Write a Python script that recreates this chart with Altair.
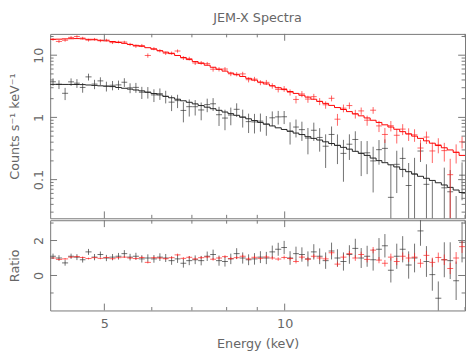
import altair as alt
import pandas as pd
import numpy as np

TITLE = "JEM-X Spectra"
X_TITLE = "Energy (keV)"
Y_TITLE = "Counts s\u207b\u00b9 keV\u207b\u00b9"
R_TITLE = "Ratio"

x_domain = [4.06, 20.0]
y_domain = [0.0239, 22.0]
r_domain = [-2.0, 3.16]

# energy bin edges (keV)
edges = [4.06, 4.15, 4.25, 4.35, 4.45, 4.55, 4.65, 4.76, 4.87, 4.98,
         5.10, 5.22, 5.34, 5.46, 5.58, 5.71, 5.84, 5.98, 6.12, 6.26,
         6.40, 6.55, 6.70, 6.85, 7.01, 7.17, 7.34, 7.51, 7.68, 7.86,
         8.04, 8.22, 8.41, 8.61, 8.80, 9.01, 9.21, 9.43, 9.64, 9.87,
         10.09, 10.33, 10.56, 10.81, 11.06, 11.31, 11.57, 11.84, 12.11, 12.39,
         12.68, 12.97, 13.27, 13.57, 13.89, 14.21, 14.53, 14.87, 15.21, 15.56,
         15.92, 16.29, 16.66, 17.05, 17.44, 17.84, 18.26, 18.68, 19.11, 19.55,
         20.00]

red_model = [18.0, 18.1, 18.3, 18.4, 18.5, 18.3, 18.0, 17.7, 17.4, 17.0,
             16.6, 16.0, 15.5, 14.9, 14.4, 13.9, 13.2, 12.5, 11.8, 11.2,
             10.6, 9.9, 9.2, 8.5, 7.9, 7.4, 6.9, 6.4, 5.95, 5.55,
             5.17, 4.85, 4.55, 4.25, 3.97, 3.70, 3.45, 3.22, 3.00, 2.80,
             2.61, 2.43, 2.27, 2.12, 1.96, 1.81, 1.68, 1.56, 1.44, 1.34,
             1.24, 1.14, 1.06, 0.98, 0.90, 0.83, 0.76, 0.70, 0.645, 0.59,
             0.543, 0.50, 0.46, 0.42, 0.385, 0.353, 0.325, 0.30, 0.275, 0.245]

black_model = [3.40, 3.40, 3.39, 3.39, 3.38, 3.37, 3.32, 3.27, 3.22, 3.18,
               3.13, 3.03, 2.94, 2.85, 2.76, 2.67, 2.54, 2.42, 2.30, 2.18,
               2.07, 1.96, 1.85, 1.75, 1.65, 1.55, 1.46, 1.38, 1.30, 1.22,
               1.15, 1.08, 1.01, 0.95, 0.89, 0.83, 0.78, 0.73, 0.68, 0.64,
               0.60, 0.56, 0.53, 0.49, 0.46, 0.433, 0.405, 0.38, 0.355, 0.33,
               0.309, 0.285, 0.265, 0.245, 0.222, 0.202, 0.187, 0.173, 0.16, 0.146,
               0.134, 0.123, 0.113, 0.105, 0.097, 0.089, 0.082, 0.075, 0.068, 0.062]

red_ratio = [1.00, 0.92, 0.95, 1.05, 1.08, 1.03, 0.97, 1.02, 0.98, 1.03,
             0.96, 1.02, 1.05, 1.00, 0.97, 1.03, 0.75, 1.02, 1.00, 0.96,
             1.02, 1.18, 0.98, 1.04, 0.95, 1.02, 1.06, 0.93, 1.00, 1.08,
             0.97, 1.02, 1.10, 0.95, 1.04, 0.98, 1.06, 1.00, 0.94, 1.03,
             0.97, 0.80, 1.05, 0.93, 1.10, 1.00, 0.95, 1.30, 0.65, 1.05,
             1.25, 1.00, 1.20, 0.92, 1.45, 0.88, 0.70, 1.05, 0.80, 1.10,
             1.00, 1.05, 0.70, 1.15, 0.75, 1.03, 0.90, 0.40, 1.00, 1.65]

red_rerr = [0.05, 0.05, 0.05, 0.05, 0.05, 0.05, 0.05, 0.05, 0.05, 0.05,
            0.05, 0.05, 0.05, 0.06, 0.06, 0.06, 0.06, 0.06, 0.06, 0.06,
            0.06, 0.07, 0.07, 0.07, 0.07, 0.07, 0.07, 0.08, 0.08, 0.08,
            0.08, 0.08, 0.09, 0.09, 0.09, 0.09, 0.10, 0.10, 0.10, 0.11,
            0.11, 0.11, 0.12, 0.12, 0.12, 0.13, 0.13, 0.14, 0.14, 0.15,
            0.15, 0.16, 0.16, 0.17, 0.18, 0.18, 0.19, 0.20, 0.21, 0.22,
            0.23, 0.24, 0.25, 0.26, 0.27, 0.28, 0.30, 0.32, 0.34, 0.36]

black_ratio = [1.10, 1.00, 0.72, 1.10, 1.05, 0.90, 1.35, 1.05, 1.20, 1.00,
               1.05, 1.10, 1.25, 1.05, 1.10, 0.95, 1.00, 0.95, 1.05, 1.00,
               0.85, 0.95, 0.70, 0.85, 0.90, 0.85, 1.10, 1.20, 0.85, 0.80,
               0.95, 1.25, 1.00, 0.90, 0.95, 1.05, 1.00, 1.35, 1.50, 1.60,
               1.00, 1.25, 1.20, 0.95, 1.35, 1.10, 0.85, 1.40, 1.00, 0.80,
               1.20, 1.55, 1.00, 1.10, 0.90, 1.50, 1.70, 0.30, 1.10, 1.50,
               0.60, 1.00, 2.55, 0.80, 0.05, -1.30, 0.90, 0.85, -0.30, 1.90]

black_rerr = [0.15, 0.16, 0.16, 0.15, 0.17, 0.16, 0.17, 0.18, 0.17, 0.18,
              0.18, 0.19, 0.20, 0.19, 0.20, 0.21, 0.21, 0.22, 0.22, 0.23,
              0.24, 0.23, 0.25, 0.26, 0.25, 0.27, 0.27, 0.28, 0.29, 0.29,
              0.30, 0.31, 0.32, 0.31, 0.33, 0.34, 0.35, 0.36, 0.37, 0.38,
              0.39, 0.40, 0.41, 0.43, 0.44, 0.45, 0.47, 0.48, 0.50, 0.52,
              0.53, 0.55, 0.57, 0.60, 0.62, 0.64, 0.67, 0.70, 0.72, 0.75,
              0.78, 0.82, 0.85, 0.88, 0.92, 0.96, 1.00, 1.05, 1.10, 1.15]

x_major = [5, 10]
x_minor = [6, 7, 8, 9, 20]
y_major = [0.1, 1, 10]
y_minor = [0.03, 0.04, 0.05, 0.06, 0.07, 0.08, 0.09,
           0.2, 0.3, 0.4, 0.5, 0.6, 0.7, 0.8, 0.9,
           2, 3, 4, 5, 6, 7, 8, 9, 20]
r_major = [0, 2]
r_minor = [-1, 1, 3]

FONT = "DejaVu Sans"
TXT = "#666666"
RED = "#ff2020"
BLK = "#333333"
W, H_TOP, H_BOT = 423, 188, 92
MAJ, MIN = 7, 3.5

xs = alt.Scale(type="log", domain=x_domain, nice=False)
ys = alt.Scale(type="log", domain=y_domain, nice=False)
rs = alt.Scale(type="linear", domain=r_domain, nice=False, zero=False)

lo = np.array(edges[:-1]); hi = np.array(edges[1:]); ctr = np.sqrt(lo * hi)


def series_frames(model, ratio, rerr):
    model = np.array(model); ratio = np.array(ratio); rerr = np.array(rerr)
    data = ratio * model
    err = rerr * model
    top = pd.DataFrame({"lo": lo, "hi": hi, "c": ctr,
                        "y": np.where(data > 0, data, np.nan),
                        "ylo": np.where(data - err > 0, data - err, 1e-4),
                        "yhi": np.where(data + err > 0, data + err, np.nan)})
    rat = pd.DataFrame({"lo": lo, "hi": hi, "c": ctr, "r": ratio,
                        "rlo": ratio - rerr, "rhi": ratio + rerr})
    step = pd.DataFrame({"e": list(edges), "m": list(model) + [model[-1]]})
    return top, rat, step


yaxis = alt.Axis(values=y_major, format="~g", title=Y_TITLE, labelAngle=-90,
                 labelAlign="center", labelBaseline="bottom", labelPadding=5,
                 titlePadding=11)
raxis = alt.Axis(values=r_major, format="d", title=R_TITLE, labelAngle=-90,
                 labelAlign="center", labelBaseline="bottom", labelPadding=5,
                 titlePadding=11)
xaxis = alt.Axis(values=x_major, format="d", title=X_TITLE, labelPadding=7,
                 titlePadding=8)


def crosses(df, color, yf, ylof, yhif, scale, axis, xax, op):
    h = alt.Chart(df).mark_rule(color=color, strokeWidth=1, opacity=op, clip=True).encode(
        x=alt.X("lo:Q", scale=xs, axis=xax), x2="hi:Q",
        y=alt.Y(f"{yf}:Q", scale=scale, axis=axis))
    v = alt.Chart(df).mark_rule(color=color, strokeWidth=1, opacity=op, clip=True).encode(
        x=alt.X("c:Q", scale=xs, axis=xax),
        y=alt.Y(f"{ylof}:Q", scale=scale, axis=axis), y2=f"{yhif}:Q")
    return [h, v]


def xticks(height, axis):
    out = []
    for vals, ln in ((x_major, MAJ), (x_minor, MIN)):
        d = pd.DataFrame({"v": vals})
        for y1, y2 in ((0, ln), (height, height - ln)):
            out.append(alt.Chart(d).mark_rule(color="#777777", strokeWidth=1).encode(
                x=alt.X("v:Q", scale=xs, axis=axis), y=alt.value(y1), y2=alt.value(y2)))
    return out


def yticks(major, minor, scale, axis, xax):
    out = []
    for vals, ln in ((major, MAJ), (minor, MIN)):
        d = pd.DataFrame({"v": vals})
        for x1, x2 in ((0, ln), (W, W - ln)):
            out.append(alt.Chart(d).mark_rule(color="#777777", strokeWidth=1).encode(
                y=alt.Y("v:Q", scale=scale, axis=axis), x=alt.value(x1), x2=alt.value(x2)))
    return out


b_top, b_rat, b_step = series_frames(black_model, black_ratio, black_rerr)
r_top, r_rat, r_step = series_frames(red_model, red_ratio, red_rerr)

top_layers = []
top_layers += crosses(b_top, BLK, "y", "ylo", "yhi", ys, yaxis, None, 0.7)
top_layers.append(alt.Chart(b_step).mark_line(color="#222222", strokeWidth=1, interpolate="step-after", clip=True).encode(
    x=alt.X("e:Q", scale=xs, axis=None), y=alt.Y("m:Q", scale=ys, axis=yaxis)))
top_layers += crosses(r_top, RED, "y", "ylo", "yhi", ys, yaxis, None, 0.7)
top_layers.append(alt.Chart(r_step).mark_line(color="#ff0000", strokeWidth=1, interpolate="step-after", clip=True).encode(
    x=alt.X("e:Q", scale=xs, axis=None), y=alt.Y("m:Q", scale=ys, axis=yaxis)))
top_layers += xticks(H_TOP, None)
top_layers += yticks(y_major, y_minor, ys, yaxis, None)

top = alt.layer(*top_layers).properties(
    width=W, height=H_TOP,
    title=alt.TitleParams(TITLE, fontSize=13, font=FONT, color=TXT, fontWeight="normal",
                          anchor="middle", frame="group", offset=9))

bot_layers = []
bot_layers += xticks(H_BOT, xaxis)
bot_layers += crosses(b_rat, BLK, "r", "rlo", "rhi", rs, raxis, xaxis, 0.7)
bot_layers += crosses(r_rat, RED, "r", "rlo", "rhi", rs, raxis, xaxis, 0.7)
bot_layers += yticks(r_major, r_minor, rs, raxis, xaxis)

bot = alt.layer(*bot_layers).properties(width=W, height=H_BOT)

chart = alt.vconcat(top, bot, spacing=0).properties(padding=0).configure_view(
    stroke="#777777", strokeWidth=1
).configure_axis(
    ticks=False, domain=False, grid=False,
    labelFont=FONT, labelFontSize=13, labelColor=TXT,
    titleFont=FONT, titleFontSize=13, titleColor=TXT, titleFontWeight="normal"
)

chart.save("out.html", embed_options={"renderer": "svg", "actions": False})
